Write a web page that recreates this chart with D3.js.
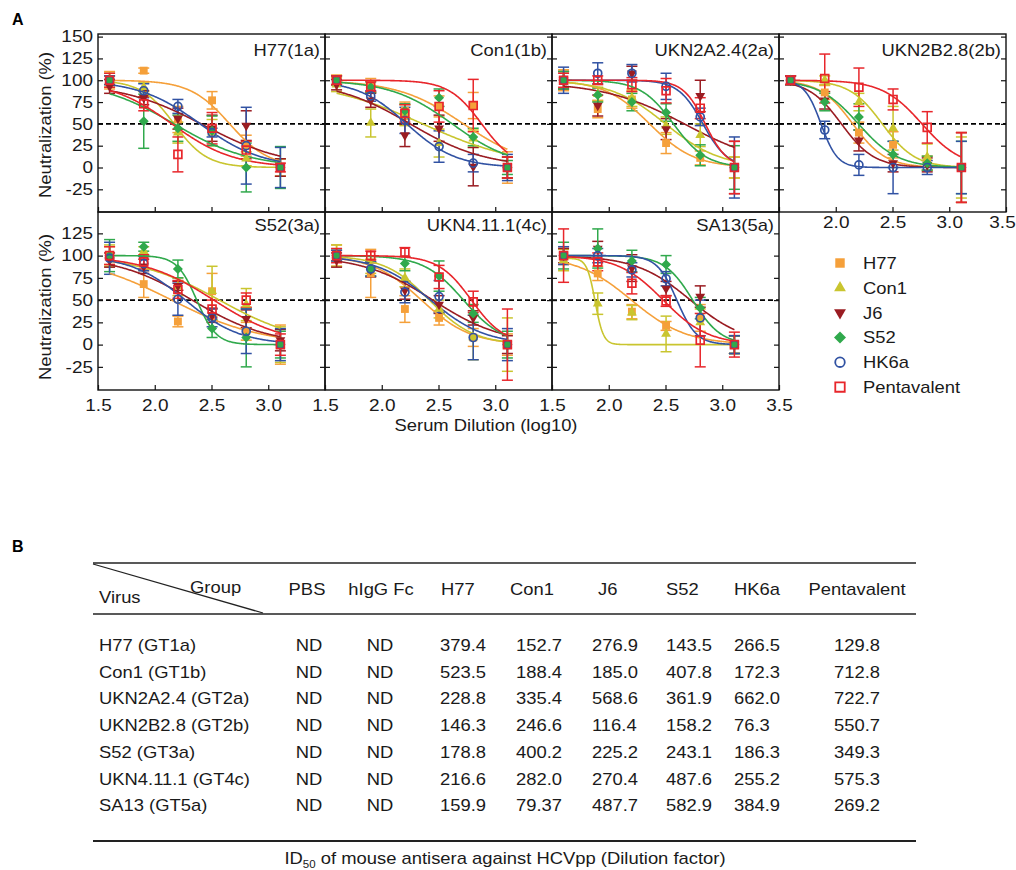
<!DOCTYPE html>
<html>
<head>
<meta charset="utf-8">
<script src="https://cdn.jsdelivr.net/npm/d3@7"></script>
<style>
  body { margin: 0; background: #fff; }
  svg { display: block; font-family: "Liberation Sans", Arial, Helvetica, sans-serif; }
</style>
</head>
<body>
<svg id="fig" width="1016" height="870"></svg>
<script>
// ---- data ----
var dilution = [1.602, 1.903, 2.204, 2.505, 2.806, 3.107];   // log10 serum dilution
var groups = ["H77", "Con1", "J6", "S52", "HK6a", "Pentavalent"];
var groupColors = ["#f5a03a", "#c9c52f", "#9a1c22", "#30a94c", "#3152a3", "#e8262b"];
var panelTitles = ["H77(1a)", "Con1(1b)", "UKN2A2.4(2a)", "UKN2B2.8(2b)", "S52(3a)", "UKN4.11.1(4c)", "SA13(5a)"];
var yTicksTop = [150, 125, 100, 75, 50, 25, 0, -25];
var yTicksBottom = [125, 100, 75, 50, 25, 0, -25];
var xTicks = [1.5, 2.0, 2.5, 3.0, 3.5];

// mean neutralization (%), one row per group (H77, Con1, J6, S52, HK6a, Pentavalent)
var meanH77 = [[100, 111, 55, 77, 25, 0], [100, 92, 40, 40, 10, 0], [93, 80, 56, 45, 48, 0],
               [100, 53, 45, 42, 0, 0], [100, 88, 70, 40, 25, 0], [100, 73, 15, 45, 20, 0]];
var errH77 = [[10, 3, 15, 10, 12, 10], [8, 5, 12, 15, 8, 10], [8, 8, 12, 15, 17, 10],
              [5, 31, 15, 17, 28, 24], [5, 8, 8, 5, 44, 23], [8, 8, 20, 18, 10, 5]];
// fitted curves: [top, logID50, hill slope]
var fitH77 = [[100, 2.66, 2.5], [100, 2.17, 3.0], [97, 2.43, 1.2], [100, 2.17, 1.3], [100, 2.40, 1.6], [100, 2.15, 1.6]];

var meanCon1 = [[100, 94, 65, 70, 71, 0], [95, 51, 60, 28, 33, 0], [95, 77, 37, 45, 1, 0],
                [100, 92, 65, 80, 35, 0], [100, 82, 54, 24, 5, 0], [100, 93, 62, 70, 71, 0]];
var errCon1 = [[6, 8, 10, 12, 15, 18], [8, 16, 12, 16, 10, 12], [6, 8, 13, 15, 22, 12],
               [5, 6, 8, 10, 10, 8], [5, 6, 15, 18, 10, 15], [5, 6, 10, 18, 30, 12]];
var fitCon1 = [[100, 2.72, 1.5], [100, 2.36, 1.0], [100, 2.25, 1.3], [100, 2.62, 1.6], [100, 2.22, 2.0], [100, 2.88, 3.0]];

var meanUKN2A = [[100, 67, 78, 28, 11, 0], [100, 84, 80, 48, 37, 0], [100, 71, 108, 44, 82, 0],
                 [100, 83, 75, 63, 14, 0], [100, 108, 108, 93, 58, 0], [100, 100, 95, 88, 68, 0]];
var errUKN2A = [[12, 10, 10, 12, 8, 12], [10, 8, 10, 10, 13, 12], [10, 12, 8, 12, 18, 30],
                [10, 8, 10, 10, 12, 25], [15, 12, 10, 15, 10, 35], [8, 5, 8, 14, 12, 30]];
var fitUKN2A = [[100, 2.36, 2.2], [100, 2.50, 1.8], [98, 2.68, 1.2], [100, 2.57, 3.0], [100, 2.83, 4.0], [100, 2.85, 4.5]];

var meanUKN2B = [[100, 86, 40, 26, 5, 0], [100, 100, 75, 45, 12, 0], [100, 77, 31, 5, 3, 0],
                 [100, 75, 58, 15, 5, 0], [100, 43, 3, 0, 0, 0], [100, 102, 92, 78, 46, 0]];
var errUKN2B = [[5, 8, 12, 15, 8, 40], [5, 5, 10, 25, 15, 35], [5, 10, 12, 10, 8, 40],
                [5, 10, 15, 15, 8, 30], [5, 10, 12, 30, 8, 30], [5, 28, 22, 12, 18, 40]];
var fitUKN2B = [[100, 2.15, 3.0], [100, 2.41, 3.0], [100, 2.05, 3.0], [100, 2.20, 2.5], [100, 1.87, 6.0], [100, 2.76, 2.5]];

var meanS52 = [[100, 68, 26, 60, 15, 0], [100, 105, 65, 60, 45, 0], [95, 88, 66, 33, 29, 5],
               [100, 110, 85, 18, 8, 0], [97, 91, 51, 30, 15, 0], [100, 93, 62, 40, 50, 0]];
var errS52 = [[10, 15, 6, 20, 10, 22], [12, 5, 10, 28, 18, 20], [8, 8, 5, 8, 10, 12],
              [18, 5, 10, 10, 33, 15], [18, 8, 18, 10, 25, 18], [10, 8, 10, 10, 8, 12]];
var fitS52 = [[100, 2.15, 1.1], [100, 2.57, 1.2], [100, 2.33, 1.3], [100, 2.37, 5.0], [100, 2.27, 1.8], [100, 2.52, 1.4]];

var meanUKN4 = [[100, 80, 40, 30, 8, 0], [100, 88, 75, 40, 8, 0], [95, 84, 61, 45, 30, 0],
                [100, 85, 91, 77, 35, 0], [100, 85, 59, 54, 8, 0], [100, 100, 104, 76, 48, 0]];
var errUKN4 = [[12, 27, 15, 8, 10, 12], [12, 8, 10, 10, 25, 30], [8, 8, 10, 10, 8, 10],
               [6, 8, 8, 17, 10, 15], [6, 8, 12, 18, 25, 18], [8, 5, 5, 13, 12, 40]];
var fitUKN4 = [[100, 2.35, 2.0], [100, 2.42, 2.2], [100, 2.45, 1.4], [100, 2.72, 2.5], [100, 2.43, 1.8], [100, 2.79, 3.0]];

var meanSA13 = [[100, 80, 37, 21, 30, 0], [95, 46, 36, 12, 25, 0], [100, 108, 86, 63, 54, 0],
                [100, 108, 94, 90, 41, 0], [100, 100, 84, 74, 30, 0], [100, 93, 69, 49, 5, 0]];
var errSA13 = [[10, 8, 8, 5, 15, 10], [12, 12, 8, 20, 15, 10], [8, 8, 15, 8, 12, 10],
               [15, 22, 12, 10, 12, 10], [10, 8, 8, 8, 20, 10], [30, 10, 12, 6, 30, 14]];
var fitSA13 = [[100, 2.20, 1.8], [97, 1.88, 12], [100, 2.72, 1.8], [100, 2.74, 3.5], [100, 2.60, 5.0], [100, 2.48, 2.2]];

// table B
var tableHeaders = ["PBS", "hIgG Fc", "H77", "Con1", "J6", "S52", "HK6a", "Pentavalent"];
var tableViruses = ["H77 (GT1a)", "Con1 (GT1b)", "UKN2A2.4 (GT2a)", "UKN2B2.8 (GT2b)", "S52 (GT3a)", "UKN4.11.1 (GT4c)", "SA13 (GT5a)"];
var id50Rows = [
  ["ND", "ND", "379.4", "152.7", "276.9", "143.5", "266.5", "129.8"],
  ["ND", "ND", "523.5", "188.4", "185.0", "407.8", "172.3", "712.8"],
  ["ND", "ND", "228.8", "335.4", "568.6", "361.9", "662.0", "722.7"],
  ["ND", "ND", "146.3", "246.6", "116.4", "158.2", "76.3", "550.7"],
  ["ND", "ND", "178.8", "400.2", "225.2", "243.1", "186.3", "349.3"],
  ["ND", "ND", "216.6", "282.0", "270.4", "487.6", "255.2", "575.3"],
  ["ND", "ND", "159.9", "79.37", "487.7", "582.9", "384.9", "269.2"]
];

var panels = [
  {mean: meanH77, err: errH77, fit: fitH77},
  {mean: meanCon1, err: errCon1, fit: fitCon1},
  {mean: meanUKN2A, err: errUKN2A, fit: fitUKN2A},
  {mean: meanUKN2B, err: errUKN2B, fit: fitUKN2B},
  {mean: meanS52, err: errS52, fit: fitS52},
  {mean: meanUKN4, err: errUKN4, fit: fitUKN4},
  {mean: meanSA13, err: errSA13, fit: fitSA13}
];

// ---- layout ----
var svg = d3.select("#fig");
var SX = 1.15;          // the source figure's type is a bit wide
var W = 227;
var colX = [98, 325, 552, 779];
var rowBox = [{top: 34, bottom: 212, max: 153}, {top: 212, bottom: 390, max: 149}];

function txt(sel, x, y, s, size, anchor) {
  return sel.append("text")
    .attr("transform", "translate(" + x + "," + y + ") scale(" + SX + ",1)")
    .attr("font-size", size)
    .attr("text-anchor", anchor || "start")
    .attr("fill", "#1a1a1a")
    .text(s);
}

function symbolFor(k, scale) {
  var s = scale || 1;
  if (k === 1 || k === 2) return d3.symbol().type(d3.symbolTriangle).size(42 * s * s)();
  if (k === 4) return d3.symbol().type(d3.symbolCircle).size(50 * s * s)();
  if (k === 3) return d3.symbol().type(d3.symbolSquare).size(50 * s * s)();
  return d3.symbol().type(d3.symbolSquare).size(62 * s * s)();
}
function symbolRot(k) { return k === 2 ? " rotate(180)" : (k === 3 ? " rotate(45)" : ""); }
function isOpen(k) { return k >= 4; }

function styleAxis(a, size) {
  a.select(".domain").remove();
  a.attr("font-size", size).attr("font-family", null);
  a.selectAll(".tick line").attr("stroke", "#111").attr("stroke-width", 1.2);
  a.selectAll(".tick text").attr("fill", "#1a1a1a").each(function() {
    var t = d3.select(this);
    var x = +t.attr("x") || 0;
    t.attr("x", x / SX).attr("transform", "scale(" + SX + ",1)");
  });
}

panels.forEach(function(p, i) {
  var row = i < 4 ? 0 : 1, col = i < 4 ? i : i - 4;
  var box = rowBox[row], x0 = colX[col];
  var x = d3.scaleLinear().domain([1.5, 3.5]).range([x0, x0 + W]);
  var y = d3.scaleLinear().domain([-51, box.max]).range([box.bottom, box.top]);
  var g = svg.append("g");

  // 50% reference line
  g.append("line")
    .attr("x1", x0).attr("x2", x0 + W)
    .attr("y1", y(50)).attr("y2", y(50))
    .attr("stroke", "#000").attr("stroke-width", 1.6)
    .attr("stroke-dasharray", "5,3");

  // error bars
  groups.forEach(function(name, k) {
    var eg = g.append("g").attr("stroke", groupColors[k]).attr("stroke-width", 1.5);
    dilution.forEach(function(d, j) {
      var m = p.mean[k][j], e = p.err[k][j], cx = x(d);
      eg.append("line").attr("x1", cx).attr("x2", cx).attr("y1", y(m - e)).attr("y2", y(m + e));
      eg.append("line").attr("x1", cx - 5.5).attr("x2", cx + 5.5).attr("y1", y(m - e)).attr("y2", y(m - e));
      eg.append("line").attr("x1", cx - 5.5).attr("x2", cx + 5.5).attr("y1", y(m + e)).attr("y2", y(m + e));
    });
  });

  // fitted dose-response curves
  var line = d3.line().x(function(d) { return x(d[0]); }).y(function(d) { return y(d[1]); });
  groups.forEach(function(name, k) {
    var f = p.fit[k];
    var xs = d3.range(0, 241).map(function(t) { return dilution[0] + t / 240 * (dilution[5] - dilution[0]); });
    var pts = xs.map(function(xv) { return [xv, f[0] / (1 + Math.pow(10, (xv - f[1]) * f[2]))]; });
    g.append("path").attr("d", line(pts))
      .attr("fill", "none").attr("stroke", groupColors[k]).attr("stroke-width", 1.6);
  });

  // markers
  groups.forEach(function(name, k) {
    g.selectAll(null).data(dilution).enter().append("path")
      .attr("d", symbolFor(k))
      .attr("transform", function(d, j) { return "translate(" + x(d) + "," + y(p.mean[k][j]) + ")" + symbolRot(k); })
      .attr("fill", isOpen(k) ? "none" : groupColors[k])
      .attr("stroke", isOpen(k) ? groupColors[k] : "none")
      .attr("stroke-width", 1.7);
  });

  // frame
  g.append("rect").attr("x", x0).attr("y", box.top).attr("width", W).attr("height", box.bottom - box.top)
    .attr("fill", "none").attr("stroke", "#111").attr("stroke-width", 1.4);

  // axes (inward ticks)
  var yt = row === 0 ? yTicksTop : yTicksBottom;
  g.append("g").attr("transform", "translate(" + x0 + ",0)")
    .call(d3.axisLeft(y).tickValues(yt).tickSize(-5).tickPadding(5).tickFormat(col === 0 ? String : ""))
    .call(styleAxis, 16.5);
  g.append("g").attr("transform", "translate(" + (x0 + W) + ",0)")
    .call(d3.axisRight(y).tickValues(yt).tickSize(-5).tickFormat(""))
    .call(styleAxis, 16.5);

  var labelled = (row === 1) || (col === 3);
  var lastCol = (row === 1 && col === 2) || col === 3;
  var xv = xTicks.filter(function(v) { return lastCol || v < 3.4; });
  var xa = g.append("g").attr("transform", "translate(0," + box.bottom + ")")
    .call(d3.axisBottom(x).tickValues(xv).tickSize(-5).tickPadding(row === 0 ? 4 : 9)
      .tickFormat(function(v) {
        if (!labelled) return "";
        if (row === 0 && v === 1.5) return "";
        return d3.format(".1f")(v);
      }))
    .call(styleAxis, 16.5);
  // keep the last label of the top-right panel inside the picture
  if (row === 0 && col === 3) {
    xa.selectAll(".tick text").filter(function(v) { return v === 3.5; }).attr("x", -4 / SX);
  }

  // panel title
  txt(g, x0 + W - 5, y(128), panelTitles[i], 16, "end");
});

// axis titles
[125, 307].forEach(function(cy) {
  svg.append("text")
    .attr("transform", "translate(45," + cy + ") rotate(-90) scale(" + SX + ",1)")
    .attr("font-size", 16).attr("text-anchor", "middle").attr("dy", "0.35em")
    .attr("fill", "#1a1a1a")
    .text("Neutralization (%)");
});
txt(svg, 486, 431, "Serum Dilution (log10)", 16, "middle");

// legend
var legend = svg.append("g");
groups.forEach(function(name, k) {
  var ly = 263 + k * 24.8;
  legend.append("path")
    .attr("d", symbolFor(k, 1.2))
    .attr("transform", "translate(840," + ly + ")" + symbolRot(k))
    .attr("fill", isOpen(k) ? "none" : groupColors[k])
    .attr("stroke", isOpen(k) ? groupColors[k] : "none")
    .attr("stroke-width", 1.8);
  txt(legend, 863, ly + 6, name, 16, "start");
});

// panel letters
svg.append("text").attr("x", 12).attr("y", 25).attr("font-size", 16).attr("font-weight", "bold").text("A");
svg.append("text").attr("x", 12).attr("y", 552).attr("font-size", 16).attr("font-weight", "bold").text("B");

// ---- table B ----
var tb = svg.append("g");
var tx0 = 93, tx1 = 916;
var headX = [[307, "middle"], [381, "middle"], [441, "start"], [510, "start"], [598, "start"], [666, "start"], [734, "start"], [857, "middle"]];
var cellX = [[309, "middle"], [380, "middle"], [440, "start"], [516, "start"], [592, "start"], [666, "start"], [734, "start"], [857, "middle"]];

tb.append("line").attr("x1", tx0).attr("x2", tx1).attr("y1", 563).attr("y2", 563).attr("stroke", "#222").attr("stroke-width", 1.6);
tb.append("line").attr("x1", tx0).attr("x2", tx1).attr("y1", 614).attr("y2", 614).attr("stroke", "#222").attr("stroke-width", 1.6);
tb.append("line").attr("x1", tx0).attr("x2", 263).attr("y1", 564).attr("y2", 613).attr("stroke", "#222").attr("stroke-width", 1.3);
txt(tb, 190, 593, "Group", 16, "start");
txt(tb, 99, 603, "Virus", 16, "start");
tableHeaders.forEach(function(h, c) { txt(tb, headX[c][0], 595, h, 16, headX[c][1]); });

tableViruses.forEach(function(v, r) {
  var by = 651 + r * 26.7;
  txt(tb, 99, by, v, 16, "start");
  id50Rows[r].forEach(function(val, c) { txt(tb, cellX[c][0], by, val, 16, cellX[c][1]); });
});
tb.append("line").attr("x1", tx0).attr("x2", tx1).attr("y1", 841).attr("y2", 841).attr("stroke", "#222").attr("stroke-width", 2);

var cap = tb.append("text")
  .attr("transform", "translate(505,864) scale(" + SX + ",1)")
  .attr("font-size", 16).attr("text-anchor", "middle").attr("fill", "#1a1a1a");
cap.append("tspan").text("ID");
cap.append("tspan").attr("font-size", 10).attr("dy", 4).text("50");
cap.append("tspan").attr("dy", -4).text(" of mouse antisera against HCVpp (Dilution factor)");
</script>
</body>
</html>
